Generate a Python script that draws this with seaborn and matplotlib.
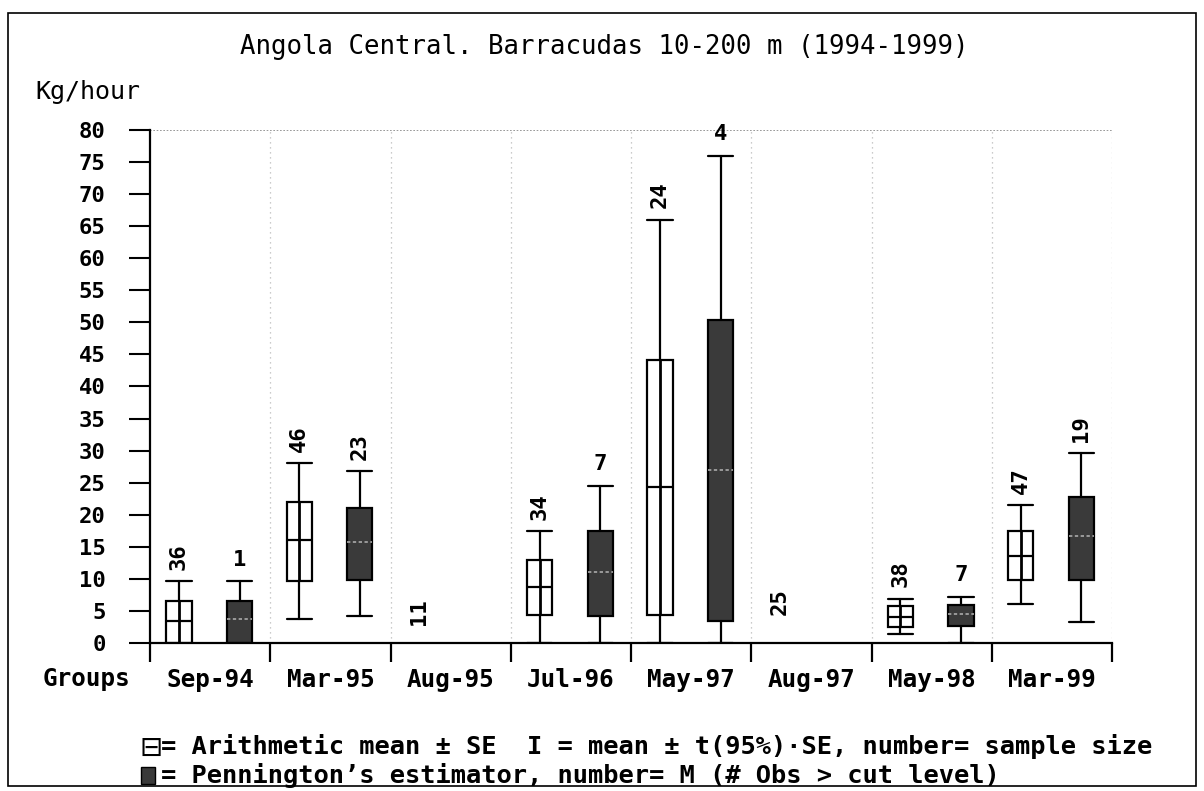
import numpy as np
import matplotlib
matplotlib.use("Agg")
import matplotlib.pyplot as plt
import seaborn as sns
from matplotlib.patches import Rectangle

groups = ['Sep-94', 'Mar-95', 'Aug-95', 'Jul-96', 'May-97', 'Aug-97', 'May-98', 'Mar-99']
nan = np.nan
# Arithmetic mean +- SE boxes (white)
a_low  = [0.0, 9.7, nan, 4.4, 4.3, nan, 2.5, 9.8]
a_mean = [3.5, 16.0, nan, 8.7, 24.3, nan, 4.1, 13.6]
a_high = [6.5, 22.0, nan, 13.0, 44.2, nan, 5.8, 17.4]
a_wlo  = [0.0, 3.8, nan, 0.0, 0.0, nan, 1.4, 6.1]
a_whi  = [9.6, 28.0, nan, 17.4, 66.0, nan, 6.9, 21.5]
a_n    = [36, 46, 11, 34, 24, 25, 38, 47]
# Pennington's estimator boxes (dark)
p_low  = [0.0, 9.8, nan, 4.2, 3.4, nan, 2.7, 9.8]
p_mean = [3.7, 15.8, nan, 11.0, 27.0, nan, 4.5, 16.7]
p_high = [6.5, 21.0, nan, 17.5, 50.3, nan, 5.9, 22.8]
p_wlo  = [0.0, 4.2, nan, 0.0, 0.0, nan, 0.0, 3.3]
p_whi  = [9.6, 26.8, nan, 24.5, 76.0, nan, 7.2, 29.6]
p_m    = [1, 23, None, 7, 4, None, 7, 19]

sns.set_style("white")
plt.rcParams['font.family'] = ['DejaVu Sans Mono', 'DejaVu Sans']
for k in ['text.color', 'axes.labelcolor', 'xtick.color', 'ytick.color', 'axes.edgecolor']:
    plt.rcParams[k] = 'black'

fig = plt.figure(figsize=(12.04, 7.91), dpi=100)
ax = fig.add_axes([0.1246, 0.1871, 0.7990, 0.6486])

off_a, off_p, bw = 0.24, 0.745, 0.21
dark = '#3a3a3a'

def stats(low, mean, high, wlo, whi):
    out, pos = [], []
    for i in range(len(groups)):
        if np.isnan(mean[i]):
            continue
        out.append(dict(med=mean[i], q1=low[i], q3=high[i], whislo=wlo[i], whishi=whi[i], fliers=[]))
        pos.append(i)
    return out, pos

sa, pa = stats(a_low, a_mean, a_high, a_wlo, a_whi)
sp, pp = stats(p_low, p_mean, p_high, p_wlo, p_whi)
lw = 1.6
ax.bxp(sa, positions=[i + off_a for i in pa], widths=bw, capwidths=bw, patch_artist=True,
       showfliers=False, manage_ticks=False,
       boxprops=dict(facecolor='white', edgecolor='black', linewidth=lw),
       medianprops=dict(color='black', linewidth=lw),
       whiskerprops=dict(color='black', linewidth=lw),
       capprops=dict(color='black', linewidth=lw), zorder=3)
# vertical centre line inside white boxes (from box bottom to box top)
ax.vlines([i + off_a for i in pa], [a_low[i] for i in pa], [a_high[i] for i in pa],
          colors='black', linewidth=2.0, zorder=12)
ax.bxp(sp, positions=[i + off_p for i in pp], widths=bw, capwidths=bw, patch_artist=True,
       showfliers=False, manage_ticks=False,
       boxprops=dict(facecolor=dark, edgecolor='black', linewidth=lw),
       medianprops=dict(color='#aaaaaa', linewidth=1.2, linestyle=(0, (2, 1.5))),
       whiskerprops=dict(color='black', linewidth=lw),
       capprops=dict(color='black', linewidth=lw), zorder=3)

# sample size labels
lab_font = dict(fontsize=16, fontweight='bold', color='black')
for i in range(len(groups)):
    if np.isnan(a_whi[i]):
        base = 2.8 if a_n[i] == 11 else 4.3
    else:
        base = a_whi[i] + 1.8
    s = str(a_n[i])
    ax.text(i + off_a, base, s, rotation=90 if len(s) > 1 else 0,
            ha='center', va='bottom', **lab_font)
    if p_m[i] is not None:
        s = str(p_m[i])
        ax.text(i + off_p, p_whi[i] + 1.8, s, rotation=90 if len(s) > 1 else 0,
                ha='center', va='bottom', **lab_font)

ax.set_xlim(0, 8)
ax.set_ylim(0, 80)
ax.set_yticks(np.arange(0, 81, 5))
ax.set_yticklabels([str(v) for v in range(0, 81, 5)], fontsize=16, fontweight='bold')
ax.set_xticks(np.arange(0, 9))
ax.set_xticklabels([])
ax.set_xticks(np.arange(0.5, 8), minor=True)
ax.set_xticklabels(groups, minor=True, fontsize=17.5, fontweight='bold')
ax.tick_params(axis='y', direction='out', length=15, width=1.5, pad=17, left=True)
ax.tick_params(axis='x', which='major', direction='out', length=13.5, width=1.6, bottom=True)
ax.tick_params(axis='x', which='minor', length=0, pad=18)

for sp_ in ['top', 'right']:
    ax.spines[sp_].set_visible(False)
for sp_ in ['left', 'bottom']:
    ax.spines[sp_].set_linewidth(1.6)
    ax.spines[sp_].set_color('black')

# dotted grid
for x in range(1, 9):
    ax.axvline(x, color='#bbbbbb', linewidth=0.9, linestyle=(0, (1, 3)), zorder=0)
ax.axhline(80, color='#888888', linewidth=1.2, linestyle=(0, (1, 1)), zorder=0)

fig.text(0.502, 0.940, 'Angola Central. Barracudas 10-200 m (1994-1999)', ha='center', va='center',
         fontsize=18.5)
fig.text(0.029, 0.884, 'Kg/hour', ha='left', va='center', fontsize=18)
fig.text(0.035, 0.141, 'Groups', ha='left', va='center', fontsize=17.5, fontweight='bold')

fig.text(0.116, 0.055, '\u229f', ha='left', va='center', fontsize=20, family=['DejaVu Sans'])
fig.text(0.134, 0.056, '= Arithmetic mean \u00b1 SE  I = mean \u00b1 t(95%)\u00b7SE, number= sample size',
         ha='left', va='center', fontsize=18.3, fontweight='bold')
fig.patches.append(Rectangle((0.117, 0.009), 0.0118, 0.0215, transform=fig.transFigure,
                             facecolor=dark, edgecolor='black', linewidth=1))
fig.text(0.134, 0.020, "= Pennington\u2019s estimator, number= M (# Obs > cut level)", ha='left',
         va='center', fontsize=18.3, fontweight='bold')

# outer frame
fig.patches.append(Rectangle((0.007, 0.006), 0.986, 0.978, transform=fig.transFigure,
                             fill=False, edgecolor='black', linewidth=1.2))

fig.savefig('out.png', dpi=100)
